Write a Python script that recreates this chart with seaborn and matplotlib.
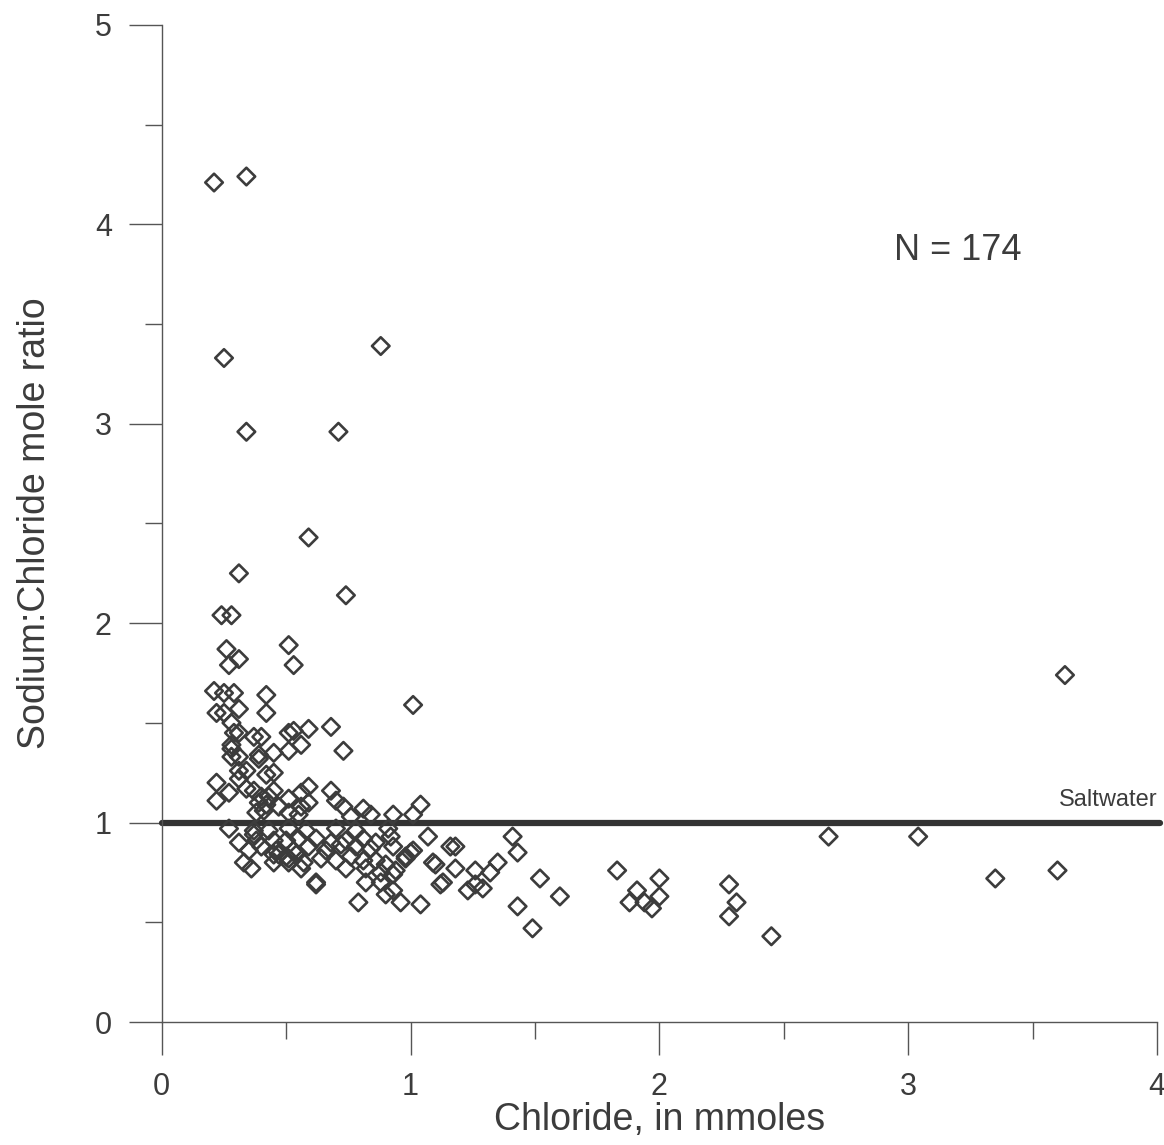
"""Sodium:chloride mole ratio against chloride, with the saltwater ratio line."""

import numpy as np
import pandas as pd
import matplotlib
matplotlib.use("Agg")
import matplotlib.pyplot as plt
from matplotlib.ticker import MultipleLocator
import seaborn as sns

# chloride (mmoles) and Na:Cl mole ratio
chloride = [
    0.21, 0.34, 0.25, 0.34, 0.88, 0.71, 0.59, 0.31, 0.74, 0.24,
    0.28, 0.26, 0.27, 0.31, 0.51, 0.53, 0.42, 0.42, 1.01, 3.63,
    0.21, 0.25, 0.29, 0.22, 0.25, 0.31, 0.28, 0.29, 0.31, 0.37,
    0.40, 0.51, 0.53, 0.59, 0.68, 0.73, 0.28, 0.28, 0.39, 0.45,
    0.51, 0.56, 0.28, 0.31, 0.39, 0.45, 0.31, 0.34, 0.42, 0.22,
    0.31, 0.27, 0.22, 0.34, 0.37, 0.40, 0.43, 0.45, 0.39, 0.42,
    0.51, 0.47, 0.56, 0.59, 0.59, 0.56, 0.68, 0.70, 0.73, 0.81,
    1.04, 0.93, 0.84, 0.76, 0.38, 0.41, 0.51, 0.55, 1.01, 0.27,
    0.37, 0.43, 0.51, 0.58, 0.70, 0.78, 0.91, 0.37, 1.07, 0.31,
    0.38, 0.45, 0.50, 0.55, 0.62, 0.68, 0.74, 0.81, 0.86, 0.92,
    0.35, 0.40, 0.46, 0.53, 0.59, 0.66, 0.72, 0.78, 0.84, 0.93,
    1.00, 0.98, 0.45, 0.47, 0.50, 0.51, 0.54, 0.33, 0.45, 0.51,
    0.57, 0.64, 0.70, 0.76, 0.81, 0.86, 0.90, 0.94, 1.09, 0.36,
    0.56, 0.74, 0.82, 0.88, 0.62, 0.62, 0.82, 0.88, 0.93, 0.93,
    0.79, 0.90, 0.96, 1.04, 1.13, 1.16, 1.18, 1.41, 1.43, 0.98,
    1.01, 1.10, 1.18, 1.12, 1.26, 1.32, 1.35, 1.26, 1.23, 1.29,
    1.52, 1.60, 1.43, 1.49, 1.83, 1.91, 2.00, 1.88, 1.94, 1.97,
    2.00, 2.28, 2.31, 2.28, 2.45, 2.68, 3.04, 3.35, 3.60,
]
ratio = [
    4.21, 4.24, 3.33, 2.96, 3.39, 2.96, 2.43, 2.25, 2.14, 2.04,
    2.04, 1.87, 1.79, 1.82, 1.89, 1.79, 1.64, 1.55, 1.59, 1.74,
    1.66, 1.65, 1.65, 1.55, 1.55, 1.57, 1.50, 1.45, 1.45, 1.43,
    1.43, 1.45, 1.46, 1.47, 1.48, 1.36, 1.37, 1.39, 1.34, 1.35,
    1.36, 1.39, 1.33, 1.33, 1.32, 1.25, 1.26, 1.26, 1.24, 1.20,
    1.22, 1.15, 1.11, 1.17, 1.16, 1.13, 1.13, 1.16, 1.10, 1.09,
    1.12, 1.08, 1.15, 1.18, 1.10, 1.08, 1.16, 1.11, 1.08, 1.07,
    1.09, 1.04, 1.04, 1.03, 1.05, 1.06, 1.05, 1.04, 1.04, 0.97,
    0.96, 0.96, 0.97, 0.96, 0.97, 0.96, 0.97, 0.94, 0.93, 0.90,
    0.91, 0.91, 0.91, 0.92, 0.92, 0.90, 0.91, 0.92, 0.90, 0.93,
    0.86, 0.88, 0.86, 0.86, 0.88, 0.86, 0.89, 0.88, 0.87, 0.88,
    0.85, 0.82, 0.84, 0.84, 0.83, 0.82, 0.84, 0.80, 0.80, 0.80,
    0.80, 0.82, 0.81, 0.83, 0.81, 0.81, 0.79, 0.76, 0.80, 0.77,
    0.77, 0.77, 0.77, 0.75, 0.69, 0.70, 0.70, 0.70, 0.74, 0.66,
    0.60, 0.64, 0.60, 0.59, 0.70, 0.88, 0.88, 0.93, 0.85, 0.83,
    0.86, 0.79, 0.77, 0.69, 0.76, 0.75, 0.80, 0.69, 0.66, 0.67,
    0.72, 0.63, 0.58, 0.47, 0.76, 0.66, 0.72, 0.60, 0.60, 0.57,
    0.63, 0.69, 0.60, 0.53, 0.43, 0.93, 0.93, 0.72, 0.76,
]
saltwater_ratio = 1.0

ink = "#3c3c3c"

df = pd.DataFrame({"chloride": chloride, "ratio": ratio})

sns.set_style("ticks")
plt.rcParams["font.family"] = ["Liberation Sans", "DejaVu Sans"]

fig = plt.figure(figsize=(11.64, 11.45), dpi=100)
ax = fig.add_axes([0.139, 0.1074, 0.855, 0.8708])

ax.axhline(saltwater_ratio, xmin=0, xmax=1.003, color="#333333", lw=4.5, zorder=1, clip_on=False)

sns.scatterplot(data=df, x="chloride", y="ratio", marker="D", s=80,
                facecolor="none", edgecolor=ink, linewidth=1.9, ax=ax,
                zorder=3, clip_on=False)

ax.set_xlim(0, 4)
ax.set_ylim(0, 5)
ax.xaxis.set_major_locator(MultipleLocator(1))
ax.xaxis.set_minor_locator(MultipleLocator(0.5))
ax.yaxis.set_major_locator(MultipleLocator(1))
ax.yaxis.set_minor_locator(MultipleLocator(0.5))

ax.tick_params(axis="both", which="major", direction="out", length=24, width=1.0,
               color="#555555", labelsize=22, labelcolor=ink)
ax.tick_params(axis="both", which="minor", direction="out", length=12, width=1.0,
               color="#555555")
ax.tick_params(axis="x", which="major", pad=12)
ax.tick_params(axis="y", which="major", pad=12)

sns.despine(ax=ax)
for side in ["left", "bottom"]:
    ax.spines[side].set_color("#555555")
    ax.spines[side].set_linewidth(1.0)

ax.set_xlabel("Chloride, in mmoles", fontsize=27, color=ink, labelpad=0)
ax.set_ylabel("Sodium:Chloride mole ratio", fontsize=27, color=ink, labelpad=30)

ax.text(3.2, 3.87, "N = 174", fontsize=26, color=ink, ha="center", va="center")
ax.text(4.0, 1.06, "Saltwater", fontsize=17, color=ink, ha="right", va="bottom")

fig.savefig("out.png", dpi=100)
